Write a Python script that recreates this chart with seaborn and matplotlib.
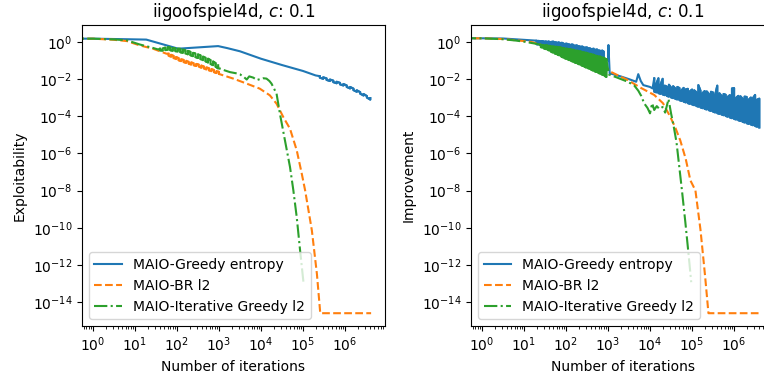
import numpy as np
import pandas as pd
import matplotlib
matplotlib.use('Agg')
import matplotlib.pyplot as plt
import seaborn as sns
from matplotlib.ticker import LogLocator, NullLocator

# all values are log10 of (iterations, metric)
# a 3-list piece is a noisy band: x, upper, lower

### Exploitability (left) ###
greedy_expl_x = [0, 0.8, 1.27, 2.03, 2.98, 3.2, 3.5, 4.0, 4.5, 5.0, 5.3]
greedy_expl_y = [0.18, 0.15, 0.13, -0.36, -0.22, -0.33, -0.5, -0.9, -1.24, -1.56, -1.8]
greedy_expl_band_x = [5.40, 5.48, 5.56, 5.64, 5.72, 5.80, 5.88, 5.96, 6.04, 6.12, 6.20, 6.28, 6.36, 6.44, 6.52, 6.60]
greedy_expl_band_hi = [-1.84, -1.90, -1.96, -2.02, -2.08, -2.14, -2.20, -2.26, -2.34, -2.42, -2.51, -2.60, -2.70, -2.80, -2.91, -3.02]
greedy_expl_band_lo = [-1.92, -1.98, -2.04, -2.10, -2.16, -2.22, -2.28, -2.34, -2.42, -2.50, -2.59, -2.68, -2.78, -2.88, -2.99, -3.10]

br_expl_x = [0, 0.5, 0.81, 1.11, 1.43, 1.75]
br_expl_y = [0.18, 0.12, 0.05, -0.18, -0.36, -0.63]
br_expl_band_x = [1.80, 1.86, 1.92, 1.98, 2.04, 2.10, 2.16, 2.22, 2.28, 2.34, 2.40,
                  2.46, 2.52, 2.58, 2.64, 2.70, 2.76, 2.82, 2.88, 2.94, 3.00]
br_expl_band_hi = [-0.63, -0.69, -0.75, -0.81, -0.87, -0.92, -0.97, -1.01, -1.06, -1.10, -1.14,
                   -1.18, -1.22, -1.27, -1.32, -1.37, -1.41, -1.46, -1.51, -1.56, -1.61]
br_expl_band_lo = [-0.74, -0.80, -0.86, -0.92, -0.98, -1.03, -1.08, -1.12, -1.17, -1.21, -1.25,
                   -1.29, -1.33, -1.38, -1.43, -1.48, -1.52, -1.57, -1.62, -1.67, -1.72]
br_expl_x2 = [3.34, 3.66, 3.97, 4.21, 4.37, 4.53, 4.69, 4.85, 4.97, 5.05, 5.21, 5.33, 5.41, 6.62]
br_expl_y2 = [-1.97, -2.24, -2.51, -2.87, -3.32, -4.04, -4.67, -5.83, -7.09, -7.99, -10.14, -12.48, -14.6, -14.6]

itg_expl_x = [0, 0.5, 0.81, 1.11, 1.43, 1.55]
itg_expl_y = [0.18, 0.14, 0.09, -0.13, -0.32, -0.4]
itg_expl_band_x = [1.60, 1.66, 1.72, 1.78, 1.84, 1.90, 1.96, 2.02, 2.08, 2.14, 2.20, 2.26,
                   2.32, 2.38, 2.44, 2.50, 2.56, 2.62, 2.68, 2.74, 2.80, 2.86, 2.92, 2.98]
itg_expl_band_hi = [-0.36, -0.34, -0.30, -0.28, -0.30, -0.32, -0.33, -0.36, -0.37, -0.40, -0.44, -0.48,
                    -0.53, -0.58, -0.62, -0.67, -0.72, -0.78, -0.84, -0.90, -0.98, -1.05, -1.14, -1.25]
itg_expl_band_lo = [-0.45, -0.46, -0.44, -0.42, -0.44, -0.47, -0.50, -0.52, -0.55, -0.58, -0.62, -0.66,
                    -0.71, -0.76, -0.81, -0.86, -0.92, -0.98, -1.04, -1.10, -1.18, -1.25, -1.33, -1.42]
itg_expl_x2 = [3.02, 3.1, 3.26, 3.4, 3.5, 3.6, 3.66, 3.72, 3.82, 3.9, 3.97, 4.05,
               4.13, 4.2, 4.25, 4.37, 4.45, 4.57, 4.69, 4.77, 4.85, 4.93, 5.01]
itg_expl_y2 = [-1.44, -1.5, -1.62, -1.68, -1.74, -1.9, -2.02, -1.85, -1.92, -2.05, -2.0, -1.95,
               -1.97, -2.1, -2.24, -2.78, -3.86, -5.3, -6.73, -7.99, -9.43, -11.22, -12.93]

### Improvement (right) ###
greedy_imp_x = [0, 0.5, 1.0, 1.25]
greedy_imp_y = [0.2, 0.19, 0.12, 0.08]
greedy_imp_band_x = [1.30, 1.34, 1.38, 1.42, 1.46, 1.50, 1.54, 1.58, 1.62, 1.66, 1.70, 1.74, 1.78, 1.82,
                     1.86, 1.90, 1.94, 1.98, 2.02, 2.06, 2.10, 2.14, 2.18, 2.22, 2.26, 2.30, 2.34, 2.38,
                     2.42, 2.46, 2.50, 2.54, 2.58, 2.62, 2.66, 2.70, 2.74, 2.78, 2.82, 2.86, 2.90]
greedy_imp_band_hi = [0.07, 0.06, 0.05, 0.05, 0.04, 0.03, 0.02, 0.03, 0.0, 0.01, 0.02, -0.01, -0.03, -0.02,
                      -0.05, -0.04, -0.08, -0.1, -0.09, -0.12, -0.15, -0.13, -0.16, -0.2, -0.18, -0.22, -0.25, -0.24,
                      -0.28, -0.3, -0.29, -0.33, -0.35, -0.38, -0.36, -0.42, -0.4, -0.45, -0.48, -0.46, -0.52]
greedy_imp_band_lo = [-0.12, -0.13, -0.15, -0.2, -0.21, -0.22, -0.23, -0.24, -0.25, -0.27, -0.29, -0.3, -0.32, -0.33,
                      -0.35, -0.38, -0.4, -0.41, -0.42, -0.43, -0.45, -0.47, -0.49, -0.51, -0.53, -0.55, -0.57, -0.6,
                      -0.62, -0.64, -0.66, -0.69, -0.72, -0.74, -0.77, -0.79, -0.82, -0.85, -0.88, -0.9, -0.95]
greedy_imp_x2 = [3.0, 3.01, 3.04, 3.1, 3.3, 3.5, 3.67, 3.72, 3.78, 3.84, 4.0, 4.06]
greedy_imp_y2 = [-1.0, -0.16, -1.7, -1.72, -1.85, -2.0, -2.14, -1.73, -2.1, -2.32, -2.42, -2.5]
greedy_imp_band2_x = [4.10, 4.15, 4.20, 4.25, 4.30, 4.35, 4.40, 4.45, 4.50, 4.55, 4.60, 4.65, 4.70,
                      4.75, 4.80, 4.85, 4.90, 4.95, 5.00, 5.05, 5.10, 5.15, 5.20, 5.25, 5.30, 5.35,
                      5.40, 5.45, 5.50, 5.55, 5.60, 5.65, 5.70, 5.75, 5.80, 5.85, 5.90, 5.95, 6.00,
                      6.05, 6.10, 6.15, 6.20, 6.25, 6.30, 6.35, 6.40, 6.45, 6.50, 6.55, 6.60]
greedy_imp_band2_hi = [-1.95, -2.25, -1.95, -2.3, -1.98, -2.35, -2.4, -2.3, -2.45, -2.38, -2.5, -2.42, -2.48,
                       -2.6, -2.47, -2.55, -2.52, -2.65, -2.56, -2.6, -2.7, -2.32, -2.62, -2.75, -2.64, -2.66,
                       -2.8, -2.68, -2.72, -2.85, -2.35, -2.76, -2.9, -2.8, -2.84, -2.95, -2.86, -2.5, -2.48,
                       -3.0, -2.9, -2.92, -3.05, -2.94, -2.96, -3.1, -2.99, -3.02, -2.85, -3.1, -3.05]
greedy_imp_band2_lo = [-2.67, -2.71, -2.75, -2.79, -2.82, -2.86, -2.90, -2.94, -2.98, -3.02, -3.06, -3.09, -3.13,
                       -3.17, -3.21, -3.25, -3.29, -3.33, -3.36, -3.40, -3.44, -3.48, -3.52, -3.56, -3.60, -3.63,
                       -3.67, -3.71, -3.75, -3.79, -3.83, -3.87, -3.90, -3.94, -3.98, -4.02, -4.06, -4.10, -4.14,
                       -4.17, -4.21, -4.25, -4.29, -4.33, -4.37, -4.41, -4.44, -4.48, -4.52, -4.56, -4.60]

br_imp_x = [0, 0.5, 1.0, 1.18, 1.57, 2.05, 2.52, 2.99, 3.06, 3.47, 3.79, 4.1, 4.31, 4.48,
            4.6, 4.72, 4.85, 4.96, 5.08, 5.2, 5.31, 5.39, 6.62]
br_imp_y = [0.2, 0.16, 0.05, 0.0, -0.27, -0.63, -0.99, -1.44, -1.6, -2.05, -2.48, -2.85, -3.3, -4.02,
            -4.6, -5.3, -6.3, -7.45, -7.99, -10.1, -12.6, -14.6, -14.6]

itg_imp_x = [0, 0.5, 0.8, 1.0, 1.3]
itg_imp_y = [0.2, 0.15, 0.08, 0.02, -0.1]
itg_imp_band_x = [1.40, 1.44, 1.48, 1.52, 1.56, 1.60, 1.64, 1.68, 1.72, 1.76, 1.80, 1.84, 1.88, 1.92,
                  1.96, 2.00, 2.04, 2.08, 2.12, 2.16, 2.20, 2.24, 2.28, 2.32, 2.36, 2.40, 2.44, 2.48,
                  2.52, 2.56, 2.60, 2.64, 2.68, 2.72, 2.76, 2.80, 2.84, 2.88, 2.92, 2.96]
itg_imp_band_hi = [-0.15, -0.16, -0.17, -0.18, -0.19, -0.2, -0.22, -0.23, -0.24, -0.26, -0.27, -0.28, -0.3, -0.32,
                   -0.34, -0.36, -0.37, -0.38, -0.4, -0.41, -0.43, -0.46, -0.47, -0.5, -0.52, -0.54, -0.56, -0.58,
                   -0.61, -0.63, -0.65, -0.68, -0.71, -0.74, -0.76, -0.78, -0.81, -0.84, -0.87, -0.92]
itg_imp_band_lo = [-0.28, -0.31, -0.35, -0.38, -0.42, -0.46, -0.51, -0.56, -0.6, -0.64, -0.68, -0.72, -0.77, -0.82,
                   -0.86, -0.9, -0.94, -0.98, -1.01, -1.05, -1.09, -1.13, -1.17, -1.21, -1.25, -1.29, -1.33, -1.37,
                   -1.41, -1.45, -1.49, -1.53, -1.57, -1.61, -1.65, -1.69, -1.73, -1.77, -1.82, -1.88]
itg_imp_x2 = [3.02, 3.2, 3.47, 3.62, 3.72, 3.79, 3.86, 3.94, 4.0, 4.05, 4.1, 4.16, 4.22, 4.3,
              4.36, 4.44, 4.5, 4.56, 4.63, 4.69, 4.76, 4.84, 4.92, 4.98]
itg_imp_y2 = [-1.75, -1.9, -2.14, -2.33, -2.62, -2.9, -3.3, -3.55, -3.84, -3.3, -3.66, -3.45, -3.6, -3.5,
              -3.8, -3.07, -3.84, -4.5, -5.4, -6.6, -8.0, -9.7, -11.5, -12.93]

labels = ['MAIO-Greedy entropy', 'MAIO-BR l2', 'MAIO-Iterative Greedy l2']
colors = ['#1f77b4', '#ff7f0e', '#2ca02c']
styles = ['-', '--', '-.']


def to_frame(xs, ys):
    return pd.DataFrame({'iters': 10.0 ** np.array(xs), 'value': 10.0 ** np.array(ys)})


def curve(*pieces):
    xs, ys, bands = [], [], []
    for p in pieces:
        if len(p) == 2:
            xs += list(p[0])
            ys += list(p[1])
        else:
            # noisy stretch: walk up and down between the two envelopes
            bx, by = [], []
            for i, (x, hi, lo) in enumerate(zip(*p)):
                bx += [x, x]
                by += [hi, lo] if i % 2 == 0 else [lo, hi]
            xs += bx
            ys += by
            bands.append(to_frame(bx, by))
    df = to_frame(xs, ys)
    # iteration 0 is logged too (same value as iteration 1)
    df = pd.concat([pd.DataFrame({'iters': [0.0], 'value': [df['value'].iloc[0]]}), df],
                   ignore_index=True)
    return df, bands


expl = [
    curve((greedy_expl_x, greedy_expl_y),
          (greedy_expl_band_x, greedy_expl_band_hi, greedy_expl_band_lo)),
    curve((br_expl_x, br_expl_y),
          (br_expl_band_x, br_expl_band_hi, br_expl_band_lo),
          (br_expl_x2, br_expl_y2)),
    curve((itg_expl_x, itg_expl_y),
          (itg_expl_band_x, itg_expl_band_hi, itg_expl_band_lo),
          (itg_expl_x2, itg_expl_y2)),
]
imp = [
    curve((greedy_imp_x, greedy_imp_y),
          (greedy_imp_band_x, greedy_imp_band_hi, greedy_imp_band_lo),
          (greedy_imp_x2, greedy_imp_y2),
          (greedy_imp_band2_x, greedy_imp_band2_hi, greedy_imp_band2_lo)),
    curve((br_imp_x, br_imp_y)),
    curve((itg_imp_x, itg_imp_y),
          (itg_imp_band_x, itg_imp_band_hi, itg_imp_band_lo),
          (itg_imp_x2, itg_imp_y2)),
]


def plot_panel(ax, curves, ylabel):
    for (df, bands), label, color, ls in zip(curves, labels, colors, styles):
        sns.lineplot(data=df, x='iters', y='value', ax=ax, color=color,
                     linestyle=ls, label=label, sort=False, estimator=None, lw=1.5)
        # dense noisy stretches read as solid ink, whatever the dash pattern
        for b in bands:
            sns.lineplot(data=b, x='iters', y='value', ax=ax, color=color,
                         linestyle='-', sort=False, estimator=None, lw=1.5, legend=False)
    ax.set_xscale('log')
    ax.set_yscale('log')
    ax.set_xlim(10 ** -0.26, 10 ** 6.95)
    ax.set_ylim(10 ** -15.29, 10 ** 0.915)
    ax.set_xticks([10.0 ** k for k in range(0, 7)])
    ax.xaxis.set_minor_locator(LogLocator(base=10, subs=np.arange(2, 10), numticks=30))
    ax.set_yticks([10.0 ** k for k in range(-14, 1, 2)])
    ax.yaxis.set_minor_locator(NullLocator())
    ax.set_title('iigoofspiel4d, $c$: 0.1')
    ax.set_xlabel('Number of iterations')
    ax.set_ylabel(ylabel)
    ax.legend(loc='lower left')


fig = plt.figure(figsize=(7.64, 3.79), dpi=100)
ax1 = fig.add_axes([0.1073, 0.1398, 0.3966, 0.7942])
ax2 = fig.add_axes([0.6165, 0.1398, 0.3966, 0.7942])
plot_panel(ax1, expl, 'Exploitability')
plot_panel(ax2, imp, 'Improvement')

fig.savefig('out.png', dpi=100)
